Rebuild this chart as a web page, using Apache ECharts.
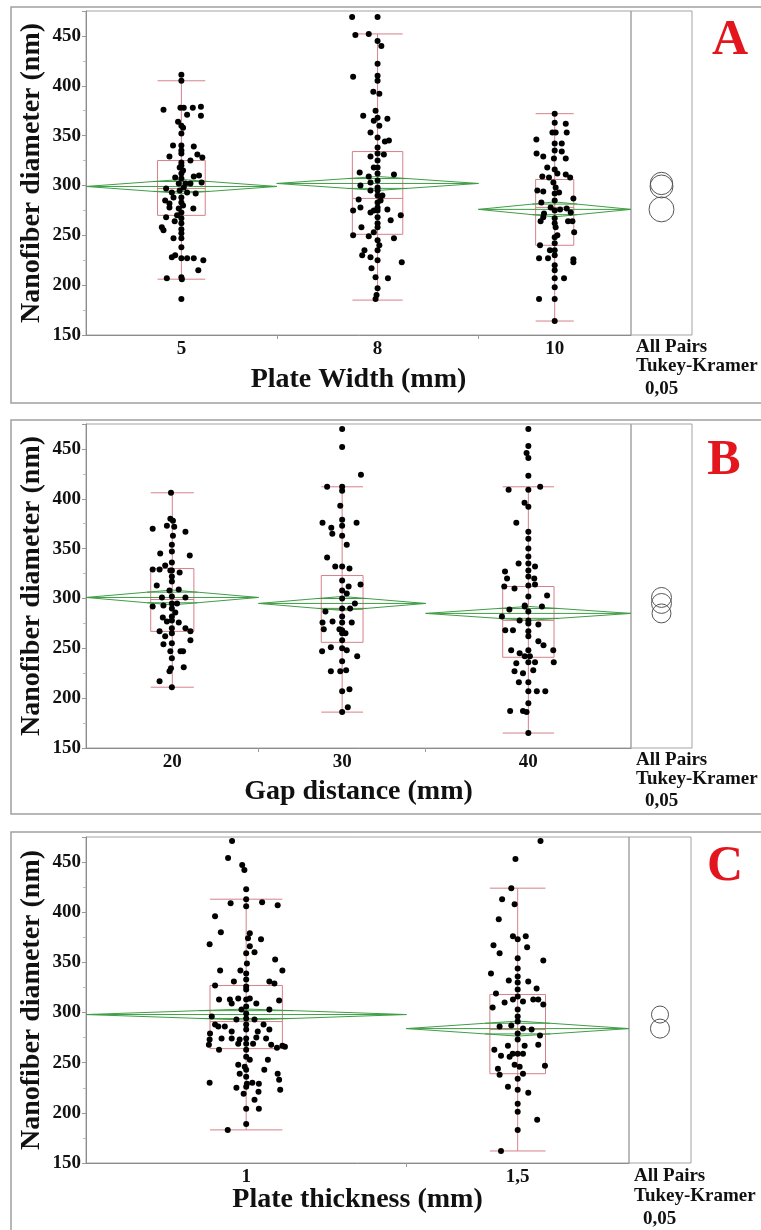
<!DOCTYPE html>
<html><head><meta charset="utf-8">
<script src="https://cdn.jsdelivr.net/npm/echarts@6/dist/echarts.min.js"></script>
<style>html,body{margin:0;padding:0;background:#fff}#c{width:761px;height:1230px}</style>
</head><body><div id="c"></div>
<script>
// ---------- shared axis values ----------
const yTicks = [150, 200, 250, 300, 350, 400, 450];
const yMax = 475;

// ---------- Panel A : Plate Width ----------
const catsA = ['5', '8', '10'];
const nA = [105, 111, 84];            // group sizes (column widths)
const meanA = [299, 302, 276];
const ciA = [7, 7, 7.5];              // half-height of mean diamond
const q1A = [270, 251, 240], medA = [297, 287, 278], q3A = [325, 334, 306];
const loA = [206, 185, 164], hiA = [405, 452, 372];
const circA = [11.5, 11.2, 12.5];     // comparison circle radius (nm)
// points: [jitter (fraction of box half-width), diameter nm]
const ptsA5 = [[0,411],[0,405],[-0.75,376],[-0.04,378],[0.1,378],[0.48,378],[0.82,379],[0.24,371],[0.82,370],[-0.14,364],[0,360],[0.07,358],[0,352],[-0.35,340],[0,340],[0.52,339],[-0.5,329],[0,332],[0.67,331],[0.88,328],[0.38,325],[0,323],[-0.07,318],[0.07,315],[0,312],[0.52,309],[0.74,310],[0.85,303],[-0.26,308],[0,307],[-0.11,302],[0.1,298],[-0.64,297],[0.24,293],[0.6,292],[-0.33,288],[0,288],[-0.68,285],[-0.5,278],[-0.11,277],[0,273],[0.5,277],[-0.64,268],[-0.28,264],[0,267],[-0.82,258],[-0.75,255],[0,256],[-0.33,247],[0,247],[0,238],[-0.4,228],[-0.26,230],[0,227],[0.24,227],[0.52,227],[0.92,225],[0.71,215],[-0.61,207],[0,208],[0.02,206],[0,186],[0,335],[0,320],[-0.07,295],[0,283],[0.07,280],[0,262],[0,252],[-0.18,270],[0.17,302],[0.38,302],[-0.4,293],[-0.5,282]];
const ptsA8 = [[-1.01,469],[0,469],[-0.88,451],[-0.35,452],[0,445],[0.15,440],[0,422],[0,410],[-0.97,409],[0,405],[-0.17,394],[0.07,392],[-0.57,370],[-0.08,375],[0,368],[0.39,367],[-0.15,365],[0.07,360],[-0.28,353],[0,348],[0.29,344],[0.45,345],[0,338],[0,332],[-0.28,329],[0.25,331],[0,325],[-0.15,318],[-0.71,313],[0,312],[-0.35,309],[0.65,311],[0,305],[-0.68,300],[0,298],[-0.28,295],[0,290],[-0.75,286],[0.12,285],[0,278],[-0.68,278],[0.39,276],[-0.97,275],[-0.28,273],[0,268],[0.92,270],[0.52,265],[-0.64,258],[0,258],[-0.15,253],[-0.97,250],[-0.35,249],[0.65,247],[0,245],[0.07,240],[-0.52,235],[-0.61,230],[-0.28,228],[0,225],[0.96,223],[-0.24,217],[-0.08,208],[0.41,207],[0,197],[-0.04,190],[-0.08,186],[0,318],[0,283],[0,275],[0,262],[0,235],[-0.15,275],[0.19,290],[0,295],[-0.28,303]];
const ptsA10 = [[0,372],[0,363],[0.58,362],[-0.12,353],[0.05,353],[0.63,353],[-0.96,346],[0,342],[0.37,342],[-0.95,332],[-0.6,329],[0,335],[0.37,334],[0.58,327],[-0.04,327],[-0.39,318],[0,316],[0.14,312],[-0.65,309],[-0.3,308],[0.58,311],[0.81,308],[-0.07,303],[-0.91,295],[-0.6,294],[0.05,298],[0.23,293],[0.98,287],[-0.7,283],[0,285],[-0.21,278],[0.28,276],[0.63,277],[0.84,273],[-0.56,272],[-0.74,264],[-0.6,268],[0,267],[0.7,264],[0.93,264],[0.05,258],[1.02,253],[0,248],[0.14,250],[-0.77,240],[0,242],[-0.25,235],[-0.82,227],[-0.35,227],[0,230],[0.98,226],[0.98,223],[0,220],[0,215],[0.49,207],[0,207],[0,198],[-0.82,186],[0,186],[0,164],[0,292],[0,275],[0,262],[0,235]];

// ---------- Panel B : Gap distance ----------
const catsB = ['20', '30', '40'];
const nB = [95, 92, 113];
const meanB = [301, 295, 285];
const ciB = [7.5, 7, 7];
const q1B = [267, 256, 241], medB = [299, 289, 278], q3B = [330, 323, 312];
const loB = [211, 186, 165], hiB = [406, 412, 412];
const circB = [10, 10, 9.5];
const ptsB20 = [[-0.06,406],[-0.91,370],[-0.09,380],[0.03,378],[-0.25,373],[0.09,372],[0.61,367],[0.03,363],[-0.02,354],[-0.56,345],[-0.02,347],[0.81,343],[-0.33,333],[-0.02,336],[-0.91,329],[-0.59,329],[-0.09,328],[-0.02,322],[0.34,326],[-0.72,313],[-0.02,317],[0.3,309],[-0.13,308],[-0.48,301],[0.61,301],[-0.02,302],[-0.91,292],[-0.41,293],[-0.02,290],[0.14,286],[-0.44,281],[-0.02,278],[0.3,276],[-0.59,267],[0.61,270],[0.84,267],[-0.02,270],[0.84,258],[-0.33,262],[-0.02,255],[-0.41,254],[0.38,247],[-0.09,247],[0.5,247],[-0.02,240],[-0.06,230],[0.53,231],[-0.13,227],[-0.59,217],[-0.02,211],[-0.02,295],[-0.02,328],[-0.02,282],[-0.02,265],[-0.25,277],[0.22,295]];
const ptsB30 = [[0,470],[0,452],[0.9,424],[-0.72,412],[0,412],[0,408],[-0.09,393],[-0.94,376],[-0.52,371],[0,379],[0.69,376],[-0.47,365],[0,373],[0,363],[0.22,354],[-0.72,341],[-0.33,332],[0,332],[0.35,330],[0,318],[0.31,312],[0.88,314],[0,308],[0.22,305],[0,300],[0.61,295],[-0.8,287],[0,290],[0.38,290],[-0.94,276],[-0.46,277],[0,276],[0.46,276],[0,268],[-0.13,269],[-0.88,269],[0,258],[0.22,248],[0,250],[-0.96,247],[-0.54,251],[0.72,242],[0,237],[-0.09,227],[-0.54,227],[0.19,228],[0.35,209],[0,207],[0.27,191],[0,186],[0,282],[0,265],[0.16,265]];
const ptsB40 = [[0,470],[0,453],[-0.07,446],[0,441],[0,423],[-0.77,409],[0,409],[0.46,412],[-0.15,396],[0,392],[-0.47,376],[0,367],[0,360],[0,350],[0,342],[-0.38,335],[0,335],[0.26,332],[0,328],[-0.91,327],[-0.83,320],[0,322],[0.23,320],[-0.54,310],[-0.94,312],[0,313],[0.26,314],[0,302],[0.73,303],[-0.74,289],[-0.14,292],[0.53,292],[0,287],[-1.03,282],[-0.34,278],[0,278],[0.39,274],[-0.9,268],[-0.6,268],[0,267],[0,262],[0.39,257],[0.59,253],[0.97,248],[-0.67,248],[0,248],[-0.34,245],[0.06,242],[0.99,236],[-0.47,235],[0,236],[0.26,236],[-0.54,227],[-0.21,225],[0.19,228],[-0.37,216],[0,216],[0.33,207],[0.66,207],[0,207],[0,195],[-0.71,187],[-0.21,187],[-0.07,186],[0,165],[0,275],[-0.14,293],[-0.14,242]];

// ---------- Panel C : Plate thickness ----------
const catsC = ['1', '1,5'];
const nC = [177, 123];
const meanC = [298, 284];
const ciC = [5.5, 7.5];
const q1C = [264, 239], medC = [291, 283], q3C = [327, 318];
const loC = [183, 162], hiC = [413, 424];
const circC = [8.5, 9.5];
const ptsC1 = [[-0.39,471],[-0.5,454],[-0.11,447],[-0.05,442],[0,423],[0,413],[-0.43,409],[0,406],[0.44,410],[0.87,407],[-0.86,396],[-0.7,380],[0.1,379],[0.05,374],[0.41,373],[-1.01,368],[0.1,366],[0.23,360],[0,359],[0.8,353],[0.02,349],[-0.72,342],[-0.16,342],[1.0,342],[0,339],[0,333],[-0.34,331],[0.64,331],[0.78,329],[-0.86,327],[0,323],[-0.75,313],[-0.45,313],[-0.22,314],[0.1,314],[0.28,309],[-0.4,309],[0.91,312],[0,306],[0.64,303],[0,299],[-0.95,296],[-0.27,293],[0.23,293],[-0.86,288],[-0.59,286],[-0.77,286],[0,288],[0.48,288],[0.64,283],[-0.4,281],[-1.0,279],[0.32,281],[-1.01,273],[-0.68,274],[-0.4,274],[-0.18,273],[0,274],[0.28,275],[0.55,274],[1.0,267],[-1.03,268],[-0.75,263],[0,263],[0.69,268],[0.85,265],[1.07,266],[0,256],[0.1,253],[0.6,253],[-0.22,248],[-0.04,246],[0.5,243],[0.87,239],[-0.18,239],[-1.01,230],[-0.27,225],[0.02,229],[0.17,230],[0.35,229],[0.91,233],[-0.07,219],[0.23,213],[0.94,223],[0.34,221],[0,204],[0.35,204],[0,189],[-0.51,183],[0,269],[0,283],[0,294],[0,313],[0,326],[0,243],[0,236],[0,226],[-0.22,269],[0.19,269],[-0.13,303]];
const ptsC15 = [[0.82,471],[-0.08,453],[-0.23,424],[-0.56,413],[-0.11,408],[-0.68,393],[-0.17,376],[0,373],[0.29,376],[-0.87,367],[-0.65,359],[0.34,365],[0.92,352],[0,354],[-0.96,339],[0,344],[-0.32,332],[0,330],[0.38,331],[0.68,324],[-0.78,319],[0,323],[-0.17,313],[0.19,311],[0.56,313],[0.74,313],[-0.9,305],[-0.47,310],[0,303],[0.92,308],[0,291],[-0.65,286],[-0.23,287],[0.19,284],[0.5,283],[0,279],[0.8,277],[0,273],[-0.84,263],[-0.35,267],[0.25,267],[0.74,268],[-0.6,257],[-0.29,256],[-0.11,248],[0.07,246],[-0.71,244],[0.19,239],[0.98,247],[-0.65,238],[0,234],[-0.35,226],[0,223],[0.38,220],[0,209],[0,201],[0.7,193],[0,183],[-0.6,162],[0,259],[0,296],[0,316],[0,336],[-0.18,259],[0.19,259]];

// ---------- styles / layout ----------
const SERIF = "'Liberation Serif','Times New Roman',serif";
const BOX = '#d4808a', GREEN = '#3f9e45', DOT = '#000000', FRAME = '#a3a3a3';

const panels = [
  {cats: catsA, n: nA, mean: meanA, ci: ciA, q1: q1A, med: medA, q3: q3A, lo: loA, hi: hiA, circ: circA,
   pts: [ptsA5, ptsA8, ptsA10], xTitle: 'Plate Width (mm)', letter: 'A',
   L: {top: 11, height: 324, left: 86, width: 545, cw: 61, gap: 31, frameY: 7, frameH: 396, letterXY: [730, 41], tk: [347, 366, 389]}},
  {cats: catsB, n: nB, mean: meanB, ci: ciB, q1: q1B, med: medB, q3: q3B, lo: loB, hi: hiB, circ: circB,
   pts: [ptsB20, ptsB30, ptsB40], xTitle: 'Gap distance (mm)', letter: 'B',
   L: {top: 424, height: 324, left: 86, width: 545, cw: 61, gap: 30, frameY: 420, frameH: 394, letterXY: [724, 461], tk: [760, 779.5, 801]}},
  {cats: catsC, n: nC, mean: meanC, ci: ciC, q1: q1C, med: medC, q3: q3C, lo: loC, hi: hiC, circ: circC,
   pts: [ptsC1, ptsC15], xTitle: 'Plate thickness (mm)', letter: 'C',
   L: {top: 837, height: 326, left: 86, width: 543, cw: 62, gap: 23, frameY: 832, frameH: 420, letterXY: [725, 867], tk: [1176.5, 1196.5, 1219]}}
];

const grid = [], xAxis = [], yAxis = [], series = [], graphic = [];
const line = (a, b, color) => ({type: 'line', shape: {x1: a[0], y1: a[1], x2: b[0], y2: b[1]}, style: {stroke: color, lineWidth: 1, fill: null}});

panels.forEach((P, k) => {
  const L = P.L;
  const total = P.n.reduce((s, v) => s + v, 0);
  const bounds = [0];
  P.n.forEach(v => bounds.push(bounds[bounds.length - 1] + v));
  const centers = P.n.map((v, i) => bounds[i] + v / 2);
  const hw = P.n.map(v => Math.min(v / 8, 20));
  const gi = 2 * k;

  grid.push({left: L.left, top: L.top, width: L.width, height: L.height, show: true, borderColor: FRAME, borderWidth: 1});
  grid.push({left: L.left + L.width, top: L.top, width: L.cw, height: L.height, show: true, borderColor: FRAME, borderWidth: 1});

  xAxis.push({
    gridIndex: gi, type: 'value', min: 0, max: total, splitLine: {show: false},
    axisLine: {show: true, lineStyle: {color: '#8c8c8c'}},
    axisTick: {show: true, customValues: bounds.slice(1, -1), length: 4, lineStyle: {color: '#999'}},
    axisLabel: {customValues: centers, margin: 5, color: '#111', fontFamily: SERIF, fontWeight: 'bold', fontSize: 19,
      formatter: v => { let b = 0; centers.forEach((c, i) => { if (Math.abs(c - v) < Math.abs(centers[b] - v)) b = i; }); return P.cats[b]; }},
    name: P.xTitle, nameLocation: 'middle', nameGap: L.gap, nameMoveOverlap: false,
    nameTextStyle: {color: '#111', fontFamily: SERIF, fontWeight: 'bold', fontSize: 28}
  });
  xAxis.push({gridIndex: gi + 1, type: 'value', min: 0, max: 1, show: false});

  yAxis.push({
    gridIndex: gi, type: 'value', min: yTicks[0], max: yMax, interval: yTicks[1] - yTicks[0],
    splitLine: {show: false},
    axisLine: {show: true, lineStyle: {color: '#8c8c8c'}},
    axisTick: {show: true, length: 4, lineStyle: {color: '#999'}},
    minorTick: {show: true, splitNumber: 2, length: 3, lineStyle: {color: '#bbb'}},
    axisLabel: {showMaxLabel: false, margin: 5, color: '#111', fontFamily: SERIF, fontWeight: 'bold', fontSize: 19},
    name: 'Nanofiber diameter (nm)', nameLocation: 'middle', nameGap: 40, nameRotate: 90, nameMoveOverlap: false,
    nameTextStyle: {color: '#111', fontFamily: SERIF, fontWeight: 'bold', fontSize: 28}
  });
  yAxis.push({gridIndex: gi + 1, type: 'value', min: yTicks[0], max: yMax, show: false});

  // box plots
  series.push({
    type: 'custom', xAxisIndex: gi, yAxisIndex: gi, z: 2, silent: true,
    data: P.n.map((v, i) => [centers[i], P.q1[i], P.med[i], P.q3[i], P.lo[i], P.hi[i], hw[i]]),
    renderItem: (params, api) => {
      const c = api.value(0), q1 = api.value(1), md = api.value(2), q3 = api.value(3), lo = api.value(4), hi = api.value(5), h = api.value(6);
      const p = (x, y) => api.coord([x, y]);
      const tl = p(c - h, q3), br = p(c + h, q1);
      return {type: 'group', children: [
        {type: 'rect', shape: {x: tl[0], y: tl[1], width: br[0] - tl[0], height: br[1] - tl[1]}, style: {stroke: BOX, fill: null, lineWidth: 1}},
        line(p(c - h, md), p(c + h, md), BOX),
        line(p(c, lo), p(c, hi), BOX),
        line(p(c - h, lo), p(c + h, lo), BOX),
        line(p(c - h, hi), p(c + h, hi), BOX)
      ]};
    }
  });

  // mean diamonds
  series.push({
    type: 'custom', xAxisIndex: gi, yAxisIndex: gi, z: 3, silent: true,
    data: P.n.map((v, i) => [centers[i], P.mean[i], P.ci[i], v]),
    renderItem: (params, api) => {
      const c = api.value(0), m = api.value(1), h = api.value(2), w = api.value(3);
      const p = (x, y) => api.coord([x, y]);
      const o = h / Math.SQRT2, ow = w * 0.5 * (1 - 1 / Math.SQRT2);
      return {type: 'group', children: [
        {type: 'polygon', shape: {points: [p(c - w / 2, m), p(c, m + h), p(c + w / 2, m), p(c, m - h)]}, style: {stroke: GREEN, fill: null, lineWidth: 1}},
        line(p(c - w / 2, m), p(c + w / 2, m), GREEN),
        line(p(c - ow, m + o), p(c + ow, m + o), GREEN),
        line(p(c - ow, m - o), p(c + ow, m - o), GREEN)
      ]};
    }
  });

  // jittered points
  const data = [];
  P.pts.forEach((arr, i) => arr.forEach(([j, v]) => data.push([centers[i] + j * hw[i], v])));
  series.push({type: 'scatter', xAxisIndex: gi, yAxisIndex: gi, z: 4, silent: true, symbolSize: 6,
    itemStyle: {color: DOT, opacity: 1}, data});

  // comparison circles
  series.push({
    type: 'custom', xAxisIndex: gi + 1, yAxisIndex: gi + 1, z: 3, silent: true,
    data: P.mean.map((m, i) => [0.5, m, P.circ[i]]),
    renderItem: (params, api) => {
      const cpt = api.coord([api.value(0), api.value(1)]);
      const r = api.size([0, api.value(2)])[1];
      return {type: 'circle', shape: {cx: cpt[0], cy: cpt[1], r}, style: {stroke: '#555', fill: null, lineWidth: 1}};
    }
  });

  // frame, letter, Tukey text
  graphic.push({type: 'rect', z: -1, shape: {x: 11, y: L.frameY, width: 800, height: L.frameH}, style: {fill: null, stroke: '#a0a0a0', lineWidth: 1.5}});
  graphic.push({type: 'text', x: L.letterXY[0], y: L.letterXY[1], style: {text: P.letter, fill: '#e3161e', fontFamily: SERIF, fontWeight: 'bold', fontSize: 50, align: 'center', verticalAlign: 'middle'}});
  const tx = L.left + L.width + 5;
  [['All Pairs', 0], ['Tukey-Kramer', 0], ['0,05', 9]].forEach(([t, dx], i) => {
    graphic.push({type: 'text', x: tx + dx, y: L.tk[i], style: {text: t, fill: '#111', fontFamily: SERIF, fontWeight: 'bold', fontSize: 19, align: 'left', verticalAlign: 'middle'}});
  });
});

const chart = echarts.init(document.getElementById('c'), null, {width: 761, height: 1230});
chart.setOption({animation: false, backgroundColor: '#fff', grid, xAxis, yAxis, series, graphic});
</script>
</body></html>
